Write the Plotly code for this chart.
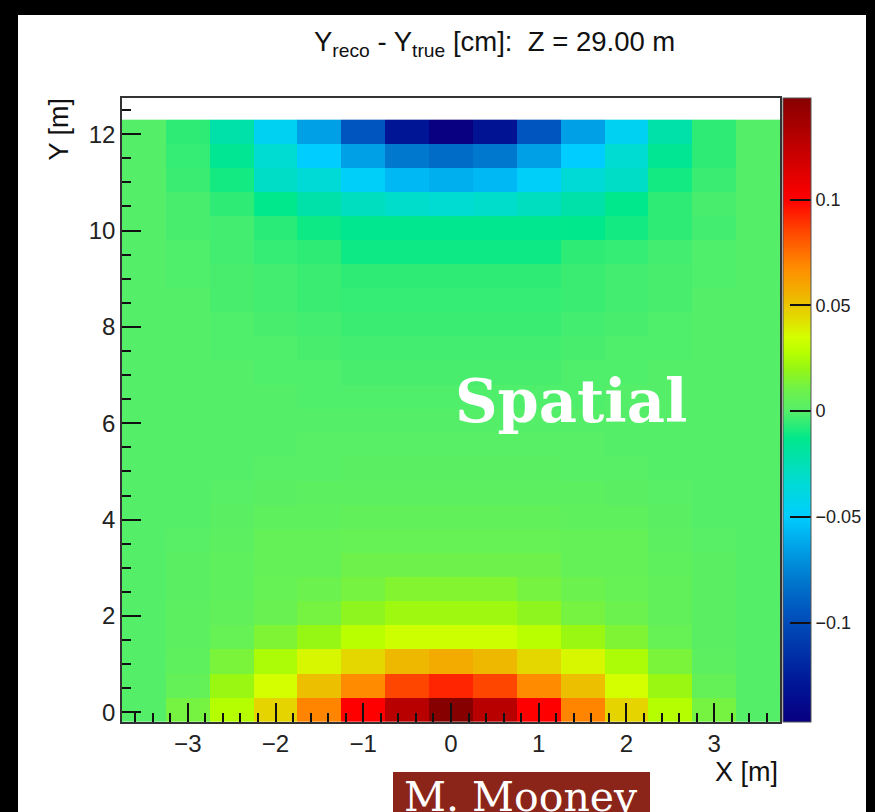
import plotly.graph_objects as go

# ---------------- data ----------------
x_centers = [-3.5, -3.0, -2.5, -2.0, -1.5, -1.0, -0.5, 0.0, 0.5, 1.0, 1.5, 2.0, 2.5, 3.0, 3.5]
y_centers = [0.05 + 0.5 * i for i in range(25)]

# Y_reco - Y_true [cm], rows from bottom (Y ~ 0) to top (Y ~ 12.3)
dy_rows = [
    [0.000, 0.012, 0.027, 0.046, 0.070, 0.100, 0.128, 0.148, 0.128, 0.100, 0.070, 0.046, 0.027, 0.012, 0.000],
    [0.000, 0.006, 0.021, 0.035, 0.052, 0.068, 0.085, 0.092, 0.085, 0.068, 0.052, 0.035, 0.021, 0.006, 0.000],
    [0.000, 0.004, 0.013, 0.025, 0.037, 0.045, 0.054, 0.058, 0.054, 0.045, 0.037, 0.025, 0.013, 0.003, 0.000],
    [0.000, 0.003, 0.007, 0.014, 0.020, 0.028, 0.033, 0.033, 0.033, 0.028, 0.021, 0.014, 0.007, 0.002, 0.000],
    [0.000, 0.003, 0.005, 0.008, 0.012, 0.018, 0.022, 0.022, 0.022, 0.018, 0.012, 0.009, 0.005, 0.002, 0.000],
    [0.000, 0.002, 0.004, 0.007, 0.009, 0.012, 0.015, 0.015, 0.015, 0.012, 0.009, 0.007, 0.005, 0.002, 0.000],
    [0.000, 0.002, 0.004, 0.006, 0.006, 0.010, 0.010, 0.010, 0.010, 0.010, 0.006, 0.006, 0.004, 0.002, 0.000],
    [0.000, 0.001, 0.003, 0.006, 0.006, 0.007, 0.007, 0.007, 0.007, 0.007, 0.006, 0.006, 0.003, 0.001, 0.000],
    [0.000, 0.000, 0.002, 0.004, 0.004, 0.005, 0.005, 0.005, 0.005, 0.005, 0.004, 0.004, 0.002, 0.000, 0.000],
    [0.000, 0.000, 0.001, 0.002, 0.003, 0.003, 0.003, 0.003, 0.003, 0.003, 0.003, 0.002, 0.001, 0.000, 0.000],
    [0.000, 0.000, 0.000, 0.001, 0.001, 0.002, 0.002, 0.002, 0.002, 0.002, 0.001, 0.001, 0.000, 0.000, 0.000],
    [0.000, 0.000, 0.000, 0.000, 0.001, 0.001, 0.001, 0.001, 0.001, 0.001, 0.001, 0.000, 0.000, 0.000, 0.000],
    [0.000, 0.000, 0.000, 0.000, 0.000, 0.000, 0.000, 0.000, 0.000, 0.000, 0.000, 0.000, 0.000, 0.000, 0.000],
    [0.000, 0.000, 0.000, 0.000, -0.001, -0.001, -0.001, -0.001, -0.001, -0.001, -0.001, 0.000, 0.000, 0.000, 0.000],
    [0.000, 0.000, 0.000, -0.001, -0.001, -0.002, -0.002, -0.002, -0.002, -0.002, -0.001, -0.001, 0.000, 0.000, 0.000],
    [0.000, 0.000, -0.001, -0.001, -0.002, -0.003, -0.003, -0.003, -0.003, -0.003, -0.002, -0.001, -0.001, 0.000, 0.000],
    [0.000, 0.000, -0.001, -0.002, -0.003, -0.004, -0.004, -0.004, -0.004, -0.004, -0.003, -0.002, -0.001, 0.000, 0.000],
    [0.000, 0.000, -0.002, -0.003, -0.004, -0.005, -0.005, -0.005, -0.005, -0.005, -0.004, -0.003, -0.002, 0.000, 0.000],
    [0.000, -0.001, -0.002, -0.003, -0.004, -0.006, -0.006, -0.006, -0.006, -0.006, -0.004, -0.003, -0.002, -0.001, 0.000],
    [0.000, -0.001, -0.003, -0.005, -0.006, -0.011, -0.011, -0.011, -0.011, -0.011, -0.006, -0.005, -0.003, -0.001, 0.000],
    [0.000, -0.002, -0.003, -0.007, -0.011, -0.014, -0.014, -0.014, -0.014, -0.014, -0.013, -0.010, -0.006, -0.003, 0.000],
    [0.000, -0.002, -0.006, -0.013, -0.022, -0.028, -0.031, -0.033, -0.031, -0.028, -0.022, -0.013, -0.006, -0.002, 0.000],
    [0.000, -0.004, -0.010, -0.030, -0.035, -0.048, -0.057, -0.060, -0.057, -0.048, -0.035, -0.030, -0.010, -0.004, 0.000],
    [0.000, -0.005, -0.015, -0.033, -0.050, -0.065, -0.080, -0.085, -0.080, -0.065, -0.050, -0.033, -0.015, -0.006, 0.000],
    [0.000, -0.006, -0.022, -0.045, -0.065, -0.095, -0.130, -0.147, -0.132, -0.095, -0.065, -0.045, -0.022, -0.006, 0.000],
]

x_ticks = [-3, -2, -1, 0, 1, 2, 3]
y_ticks = [0, 2, 4, 6, 8, 10, 12]
cbar_ticks = [-0.1, -0.05, 0, 0.05, 0.1]
cbar_labels = ["\u22120.1", "\u22120.05", "0", "0.05", "0.1"]

Z_MIN, Z_MAX = -0.147, 0.148

# palette (value -> colour)
pal_vals = [-0.147, -0.130, -0.095, -0.080, -0.065, -0.050, -0.033, -0.022, -0.013, -0.007,
            0.000, 0.010, 0.020, 0.028, 0.035, 0.045, 0.055, 0.068, 0.085, 0.100, 0.128, 0.148]
pal_cols = ["rgb(8,0,128)", "rgb(0,20,150)", "rgb(0,85,190)", "rgb(0,120,205)", "rgb(0,160,230)",
            "rgb(0,205,255)", "rgb(0,220,210)", "rgb(0,225,170)", "rgb(0,232,140)", "rgb(40,235,120)",
            "rgb(85,238,105)", "rgb(110,242,75)", "rgb(150,246,20)", "rgb(185,255,0)", "rgb(212,255,0)",
            "rgb(228,215,0)", "rgb(240,180,0)", "rgb(255,140,0)", "rgb(255,70,0)", "rgb(255,0,0)",
            "rgb(185,0,0)", "rgb(135,0,0)"]
colorscale = [[(v - Z_MIN) / (Z_MAX - Z_MIN), c] for v, c in zip(pal_vals, pal_cols)]
colorscale[0][0] = 0.0
colorscale[-1][0] = 1.0

# ---------------- layout geometry ----------------
W, H = 875, 812
ML, MR, MT, MB = 122, 95, 98, 90
PW = W - ML - MR
PH = H - MT - MB


def px(xp):
    return (xp - ML) / PW


def py(yp):
    return (H - MB - yp) / PH


FONT = "Liberation Sans, Arial, Helvetica, sans-serif"

fig = go.Figure()
fig.add_trace(go.Heatmap(
    x=x_centers, y=y_centers, z=dy_rows,
    zmin=Z_MIN, zmax=Z_MAX, colorscale=colorscale,
    hoverinfo="skip",
    colorbar=dict(
        x=px(783), xanchor="left", xpad=0, ypad=0,
        y=0.5, yanchor="middle", len=1, lenmode="fraction",
        thickness=28, thicknessmode="pixels",
        outlinecolor="#555", outlinewidth=1,
        tickvals=cbar_ticks, ticktext=cbar_labels,
        ticks="inside", ticklen=21, tickcolor="#111", tickwidth=1.5,
        tickfont=dict(family=FONT, size=18, color="#222"),
    ),
))

fig.update_layout(
    width=W, height=H,
    margin=dict(l=ML, r=MR, t=MT, b=MB, autoexpand=False),
    paper_bgcolor="white", plot_bgcolor="white",
    showlegend=False,
    xaxis=dict(
        range=[-3.75, 3.75], tickvals=x_ticks,
        ticks="inside", ticklen=19, tickwidth=1.5, tickcolor="#111",
        minor=dict(ticks="inside", ticklen=9, dtick=0.2, tick0=0, tickcolor="#111", tickwidth=1.5),
        showgrid=False, zeroline=False,
        showline=True, linecolor="#333", linewidth=1.5, mirror=True,
        tickfont=dict(family=FONT, size=24, color="#222"),
        ticklabelstandoff=-1,
    ),
    yaxis=dict(
        range=[-0.2, 12.75], tickvals=y_ticks,
        ticks="inside", ticklen=19, tickwidth=1.5, tickcolor="#111",
        minor=dict(ticks="inside", ticklen=9, dtick=0.5, tick0=0, tickcolor="#111", tickwidth=1.5),
        showgrid=False, zeroline=False,
        showline=True, linecolor="#333", linewidth=1.5, mirror=True,
        tickfont=dict(family=FONT, size=24, color="#222"),
        ticklabelstandoff=0,
    ),
)

annotations = [
    dict(text="Y<sub>reco</sub> - Y<sub>true</sub> [cm]:\u00a0 Z = 29.00 m",
         x=px(494), y=py(43), xref="paper", yref="paper",
         xanchor="center", yanchor="middle", showarrow=False,
         font=dict(family=FONT, size=27.5, color="#111")),
    dict(text="X [m]", x=px(780), y=py(772), xref="paper", yref="paper",
         xanchor="right", yanchor="middle", showarrow=False,
         font=dict(family=FONT, size=27, color="#111")),
    dict(text="Y [m]", x=px(58), y=py(96), xref="paper", yref="paper",
         xanchor="center", yanchor="top", textangle=-90, showarrow=False,
         font=dict(family=FONT, size=27, color="#111")),
    dict(text="<b>Spatial</b>", x=px(571), y=py(401), xref="paper", yref="paper",
         xanchor="center", yanchor="middle", showarrow=False,
         font=dict(family="DejaVu Serif", size=59, color="white")),
    dict(text="M. Mooney", x=px(521), y=py(797), xref="paper", yref="paper",
         xanchor="center", yanchor="middle", showarrow=False,
         font=dict(family="DejaVu Serif", size=41, color="white")),
]
fig.update_layout(annotations=annotations)

shapes = [
    # M. Mooney label box
    dict(type="rect", xref="paper", yref="paper", x0=px(393), x1=px(650), y0=py(772), y1=py(812),
         fillcolor="#8c2519", line=dict(width=0), layer="above"),
    # black outer frame
    dict(type="rect", xref="paper", yref="paper", x0=px(0), x1=px(18), y0=py(812), y1=py(0),
         fillcolor="black", line=dict(width=0), layer="above"),
    dict(type="rect", xref="paper", yref="paper", x0=px(866), x1=px(875), y0=py(812), y1=py(0),
         fillcolor="black", line=dict(width=0), layer="above"),
    dict(type="rect", xref="paper", yref="paper", x0=px(0), x1=px(875), y0=py(15), y1=py(0),
         fillcolor="black", line=dict(width=0), layer="above"),
]
fig.update_layout(shapes=shapes)

fig.write_html("out.html")
